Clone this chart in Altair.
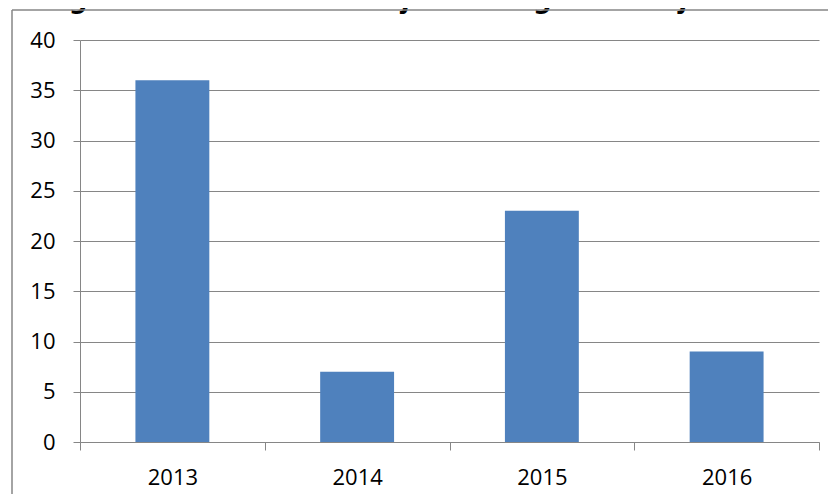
import altair as alt
import pandas as pd

years = ["2013", "2014", "2015", "2016"]
counts = [36, 7, 23, 9]
y_ticks = [0, 5, 10, 15, 20, 25, 30, 35, 40]
title_text = "budgettair verantwoordelijk is dan gemeld bij de voorjaarsnota"

df = pd.DataFrame({"jaar": years, "aantal": counts})
one = pd.DataFrame({"k": [0]})

GRAY = "#868686"
W, H = 739, 402

border_top = alt.Chart(one).mark_rule(color=GRAY, strokeWidth=1.5).encode(
    x=alt.value(-68), x2=alt.value(748), y=alt.value(-30)
)
border_left = alt.Chart(one).mark_rule(color=GRAY, strokeWidth=1.5).encode(
    x=alt.value(-68), y=alt.value(-30), y2=alt.value(454)
)

title = alt.Chart(one).mark_text(
    align="left", baseline="alphabetic", fontSize=26, fontWeight="bold",
    font="DejaVu Sans", color="black", limit=812, ellipsis=""
).encode(x=alt.value(-67), y=alt.value(-32.5), text=alt.value(title_text))

bars = alt.Chart(df).mark_bar(
    width=alt.RelativeBandSize(0.4), color="#4F81BD"
).encode(
    x=alt.X("jaar:N", sort=years,
            scale=alt.Scale(paddingInner=0, paddingOuter=0),
            axis=alt.Axis(title=None, labelAngle=0, tickBand="extent",
                          tickSize=8, labelPadding=17, grid=False)),
    y=alt.Y("aantal:Q", scale=alt.Scale(domain=[0, 40], nice=False),
            axis=alt.Axis(values=y_ticks, title=None, tickSize=7,
                          labelPadding=18, grid=True)),
)

chart = alt.layer(title, border_top, border_left, bars).properties(
    width=W, height=H,
    autosize=alt.AutoSizeParams(type="none"),
    padding={"left": 72, "top": 32, "right": 9, "bottom": 52},
).configure_view(stroke=None).configure_axis(
    domainColor=GRAY, tickColor=GRAY, gridColor=GRAY,
    domainWidth=1, tickWidth=1, gridWidth=1,
    labelFont="Open Sans", labelFontSize=22, labelColor="black",
)

chart.save("out.html", embed_options={"renderer": "svg", "actions": False})
